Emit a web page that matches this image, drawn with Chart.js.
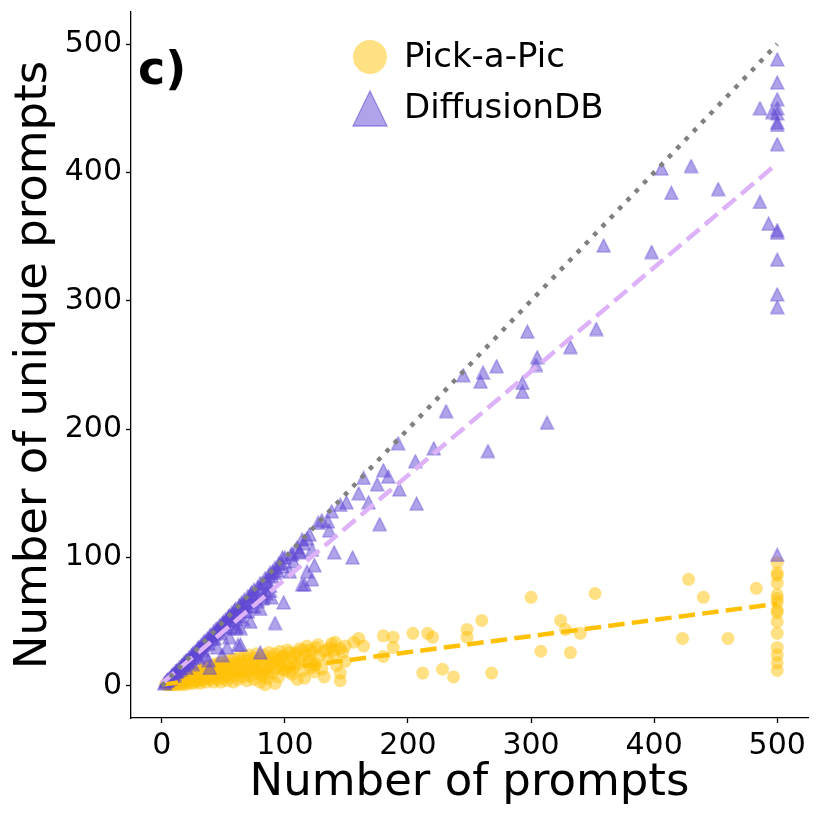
<!DOCTYPE html>
<html>
<head>
<meta charset="utf-8">
<script src="https://cdn.jsdelivr.net/npm/chart.js@4.4.1/dist/chart.umd.min.js"></script>
<style>
  html, body { margin: 0; padding: 0; background: #fff; }
  canvas { display: block; }
</style>
</head>
<body>
<canvas id="c" width="822" height="822"></canvas>
<script>
// ---------------- DATA ----------------
const tickValues = [0, 100, 200, 300, 400, 500];
const seriesNames = ['Pick-a-Pic', 'DiffusionDB'];
const panelLabel = 'c)';
const xTitle = 'Number of prompts';
const yTitle = 'Number of unique prompts';

// Pick-a-Pic: [number of prompts, number of unique prompts]
const pickAPic = [
  [500,96],[500,88],[500,86],[500,80],[500,71],[500,68],[500,65],[500,59],[500,57],[500,50],
  [500,41],[500,30],[500,24],[500,18],[500,12],
  [483,76],[428,83],[440,69],[423,37],[460,37],[352,72],[300,69],[324,51],[328,44],[340,41],
  [308,27],[332,26],[260,51],[248,44],[248,38],[268,10],[237,7],[228,13],[212,10],[216,41],
  [220,38],[204,41],[188,38],[180,39],[188,30],[180,23],[160,37],[156,34],[164,31],[149,31],
  [138,33],[141,34],[134,28],[140,28],[145,29],[125,30],[121,28],[115,28],[110,26],[104,26],
  [99,23],[96,20],[149,19],[145,10],[145,4],[132,7],[124,11],[124,16],[119,19],[121,14],
  [116,6],[108,18],[107,14],[104,11],[92,2],[84,1],[98,13],[90,18],[86,10],[82,7],[77,10],
  [72,14],[110,5],
  [3,1],[5,1],[5,2],[6,1],[7,2],[8,1],[8,3],[9,2],[10,1],[10,3],[11,2],[12,4],[12,1],[13,3],
  [14,2],[14,5],[15,1],[15,4],[16,3],[17,6],[17,2],[18,4],[19,1],[19,6],[20,3],[20,7],[21,5],
  [22,2],[22,8],[23,4],[24,6],[24,9],[25,2],[25,5],[26,8],[26,10],[27,3],[28,6],[28,11],[29,4],
  [30,8],[30,12],[31,2],[31,6],[32,10],[33,13],[33,4],[34,8],[35,11],[35,14],[36,3],[36,6],
  [37,9],[38,12],[38,15],[39,5],[40,8],[40,11],[41,16],[42,3],[42,13],[43,7],[44,10],[44,17],
  [45,5],[45,14],[46,8],[47,12],[47,18],[48,3],[48,10],[49,15],[50,6],[50,13],[51,19],[52,9],
  [52,16],[53,4],[54,12],[55,20],[55,7],[56,14],[57,10],[58,17],[58,3],[59,21],[60,8],[60,13],
  [61,18],[62,5],[63,15],[63,22],[64,10],[65,19],[66,7],[66,13],[67,23],[68,16],[69,4],[70,11],
  [70,20],[71,24],[72,8],[73,17],[74,13],[75,22],[75,5],[76,19],[77,25],[78,12],[79,15],[80,21],
  [80,3],[81,9],[82,17],[83,24],[84,13],[85,20],[86,6],[87,26],[88,15],[89,22],[90,10],[91,18],
  [92,25],[93,14],[94,21],[95,7],[96,27],[97,16],[98,23],[100,12],[100,19],[102,28],[103,15],
  [105,22],[106,9],[108,25],[110,17],[112,29],[113,21],[115,12],[117,24],[118,31],[120,20],
  [122,26],[125,17],[127,32],[128,23],[130,13],[132,27],[135,21],[137,30],[140,24],[142,16],[147,26]
];

// DiffusionDB: [number of prompts, number of unique prompts]
const diffusionDB = [
  [500,488],[500,470],[500,457],[500,450],[500,446],[500,439],[500,437],[500,422],[486,450],[496,447],
  [406,403],[430,405],[414,384],[452,387],[486,377],[493,360],[500,355],[500,353],[500,332],[500,305],
  [500,295],[500,102],[359,343],[398,338],[353,278],[332,264],[297,276],[305,256],[304,250],[272,249],
  [261,244],[245,242],[259,237],[293,236],[293,229],[313,205],[231,214],[192,189],[221,185],[265,183],
  [206,175],[180,168],[184,163],[164,162],[175,157],[193,153],[160,150],[168,143],[207,142],[150,143],
  [145,141],[138,136],[135,128],[127,127],[130,129],[136,121],[177,126],[115,111],[122,106],[112,105],
  [140,104],[155,100],[100,100],[105,102],[114,114],[106,103],[110,108],[118,115],[120,118],
  [98,100],[92,88],[89,69],[99,65],[92,49],[114,79],[104,89],[107,97],[112,104],[116,79],[118,89],
  [122,83],[124,94],[80,26],[64,32],[61,46],[38,20],[39,14],[49,24],[53,30],[62,32],[64,45],
  [2,2],[3,3],[4,4],[5,5],[5,4],[6,6],[7,6],[8,8],[8,7],[9,9],[10,10],[10,8],[11,11],[12,11],
  [12,12],[13,12],[14,14],[15,14],[15,13],[16,16],[17,16],[18,17],[18,18],[19,19],[20,20],[20,18],
  [21,20],[22,22],[23,21],[24,24],[25,25],[25,22],[26,25],[27,27],[28,26],[29,29],[30,30],[30,27],
  [31,30],[32,32],[33,31],[34,34],[35,35],[35,32],[36,34],[37,37],[38,36],[39,39],[40,40],[40,37],
  [41,39],[42,42],[43,41],[44,44],[45,45],[45,42],[46,44],[47,47],[48,46],[49,49],[50,50],[50,46],
  [51,49],[52,52],[53,51],[54,54],[55,55],[55,51],[56,54],[57,57],[58,56],[59,59],[60,60],[60,55],
  [62,60],[63,63],[64,62],[65,65],[66,63],[67,67],[68,65],[70,70],[70,66],[72,71],[73,73],[74,70],
  [75,75],[76,72],[78,77],[80,80],[80,76],[82,80],[84,84],[85,81],[87,86],[88,88],[90,89],[90,85],
  [92,92],[94,90],[95,95],[97,96],[98,93],
  [20,14],[25,17],[30,22],[35,24],[45,30],[55,38],[60,45],[66,52],[70,58],[72,50],[75,62],[80,60],
  [82,68],[85,72],[88,78],
  [22,19],[28,24],[33,28],[38,33],[43,37],[48,41],[53,45],[58,49],[63,54],[68,58],[73,62],[78,66],
  [83,70],[88,74]
];

// Reference and fit lines (endpoints)
const identityLine = [[0,0],[500,500]];
const diffusionFit = [[0,2],[500,407]];
const pickFit = [[0,1],[500,64]];

// ---------------- STYLE ----------------
const FONT = "'DejaVu Sans', 'Liberation Sans', sans-serif";
const YELLOW = 'rgb(255,193,7)';
const YELLOW_A = 'rgba(255,193,7,0.5)';
const PURPLE_FILL = 'rgba(98,72,212,0.5)';
const PURPLE_EDGE = 'rgba(98,72,212,0.55)';
const PINK = 'rgb(221,178,249)';
const GRAY = 'rgb(128,128,128)';

function makeTriangle(size, lw) {
  const cv = document.createElement('canvas');
  cv.width = size + 2; cv.height = size + 2;
  const g = cv.getContext('2d');
  const o = 1;
  g.beginPath();
  g.moveTo(o + size / 2, o);
  g.lineTo(o + size, o + size);
  g.lineTo(o, o + size);
  g.closePath();
  g.fillStyle = PURPLE_FILL;
  g.fill();
  g.lineWidth = lw;
  g.strokeStyle = PURPLE_EDGE;
  g.stroke();
  return cv;
}
const triMarker = makeTriangle(13, 1.2);

const toXY = arr => arr.map(p => ({ x: p[0], y: p[1] }));

// ---------------- PLUGINS ----------------
const annotations = {
  id: 'annotations',
  afterDraw(chart) {
    const ctx = chart.ctx;
    ctx.save();
    // panel label
    ctx.fillStyle = '#000';
    ctx.font = 'bold 46px ' + FONT;
    ctx.textAlign = 'left';
    ctx.textBaseline = 'alphabetic';
    ctx.fillText(panelLabel, 138, 84);
    // legend
    ctx.font = '34px ' + FONT;
    ctx.textBaseline = 'middle';
    // circle
    ctx.beginPath();
    ctx.arc(370, 57, 17, 0, Math.PI * 2);
    ctx.fillStyle = YELLOW_A;
    ctx.fill();
    ctx.fillStyle = '#000';
    ctx.fillText(seriesNames[0], 404, 58);
    // triangle
    ctx.beginPath();
    ctx.moveTo(370, 91);
    ctx.lineTo(387, 126);
    ctx.lineTo(353, 126);
    ctx.closePath();
    ctx.fillStyle = PURPLE_FILL;
    ctx.fill();
    ctx.lineWidth = 1.3;
    ctx.strokeStyle = PURPLE_EDGE;
    ctx.stroke();
    ctx.fillStyle = '#000';
    ctx.fillText(seriesNames[1], 404, 109);
    ctx.restore();
  }
};

// ---------------- CHART ----------------
const axisCommon = {
  type: 'linear',
  min: -25,
  max: 525,
  afterBuildTicks: s => { s.ticks = tickValues.map(v => ({ value: v })); },
  grid: { drawOnChartArea: false, drawTicks: true, tickLength: 5, tickWidth: 1.3, tickColor: '#000', color: '#000' },
  border: { display: true, color: '#000', width: 1.3 },
};

new Chart(document.getElementById('c'), {
  type: 'scatter',
  data: {
    datasets: [
      {
        type: 'line', label: 'y=x', data: toXY(identityLine), order: 0,
        borderColor: GRAY, borderWidth: 4.5, borderDash: [4.5, 7.5], pointRadius: 0, fill: false
      },
      {
        type: 'line', label: 'DiffusionDB fit', data: toXY(diffusionFit), order: 0,
        borderColor: PINK, borderWidth: 4.5, borderDash: [16.5, 7.2], pointRadius: 0, fill: false
      },
      {
        type: 'line', label: 'Pick-a-Pic fit', data: toXY(pickFit), order: 0,
        borderColor: YELLOW, borderWidth: 4.5, borderDash: [16.5, 7.2], pointRadius: 0, fill: false
      },
      {
        label: seriesNames[1], data: toXY(diffusionDB), order: 1,
        pointStyle: triMarker, pointRadius: 7, pointHoverRadius: 7
      },
      {
        label: seriesNames[0], data: toXY(pickAPic), order: 2,
        pointStyle: 'circle', pointRadius: 6.5, pointHoverRadius: 6.5,
        pointBackgroundColor: YELLOW_A, pointBorderWidth: 0, pointBorderColor: 'rgba(0,0,0,0)'
      }
    ]
  },
  options: {
    responsive: false,
    animation: false,
    events: [],
    layout: { padding: { top: 12, right: 14, left: 0, bottom: 0 } },
    plugins: { legend: { display: false }, tooltip: { enabled: false } },
    scales: {
      x: Object.assign({}, axisCommon, {
        position: 'bottom',
        afterFit: s => { s.height = 104; s.paddingLeft = 0; s.paddingRight = 0; },
        ticks: { font: { family: FONT, size: 30 }, color: '#000', padding: 5, maxRotation: 0, autoSkip: false },
        title: { display: true, text: xTitle, color: '#000', font: { family: FONT, size: 45 }, padding: { top: 0, bottom: 12 } }
      }),
      y: Object.assign({}, axisCommon, {
        position: 'left',
        afterFit: s => { s.width = 131; s.paddingTop = 0; s.paddingBottom = 0; },
        ticks: { font: { family: FONT, size: 30 }, color: '#000', padding: 4, autoSkip: false },
        title: { display: true, text: yTitle, color: '#000', font: { family: FONT, size: 45 }, padding: { top: 7, bottom: 0 } }
      })
    }
  },
  plugins: [annotations]
});
</script>
</body>
</html>
